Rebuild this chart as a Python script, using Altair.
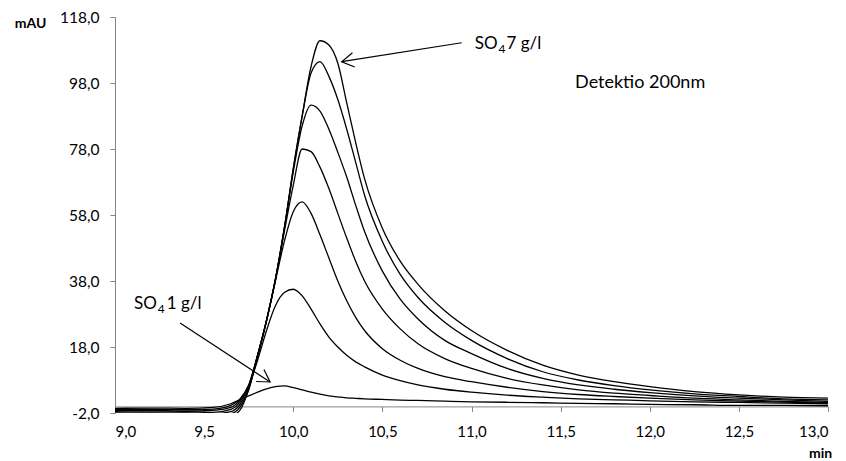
import altair as alt
import pandas as pd

# ---- data ----
TIME = [9.0, 9.2, 9.4, 9.55, 9.65, 9.7, 9.75, 9.8, 9.85, 9.9, 9.95, 10.0, 10.05, 10.1,
        10.15, 10.2, 10.25, 10.3, 10.35, 10.4, 10.5, 10.6, 10.7, 10.85, 11.0, 11.2,
        11.4, 11.6, 11.8, 12.0, 12.25, 12.5, 12.75, 13.0]

SO4_1 = [-0.6, -0.5, -0.6, -0.3, 0.8, 2.0, 3.2, 4.3, 5.3, 6.0, 6.2, 5.7, 5.0, 4.3,
         3.7, 3.2, 2.9, 2.6, 2.45, 2.3, 2.1, 1.9, 1.8, 1.6, 1.4, 1.25,
         1.1, 0.9, 0.8, 0.6, 0.5, 0.3, 0.3, 0.2]
SO4_2 = [-1.0, -0.9, -1.0, -0.8, 0.3, 2.2, 6.3, 14.0, 23.0, 30.5, 34.5, 35.5, 33.5, 29.5,
         25.0, 21.0, 18.0, 15.5, 13.5, 12.0, 9.5, 7.8, 6.5, 5.2, 4.3, 3.4,
         2.8, 2.3, 2.0, 1.7, 1.4, 1.2, 1.0, 0.8]
SO4_3 = [-1.3, -1.2, -1.4, -1.2, -0.3, 1.8, 6.5, 15.5, 26.0, 38.0, 50.0, 59.0, 62.0, 58.5,
         52.0, 45.0, 38.0, 32.0, 27.0, 23.0, 17.5, 14.0, 11.5, 9.0, 7.5, 5.8,
         4.5, 3.6, 3.0, 2.5, 2.0, 1.6, 1.3, 1.0]
SO4_4 = [-1.6, -1.7, -1.6, -1.8, -0.9, 1.2, 6.0, 15.5, 26.0, 38.5, 53.0, 67.0, 78.0, 77.2,
         72.5, 66.0, 58.5, 51.0, 44.0, 38.0, 29.5, 23.5, 19.0, 14.5, 11.5, 8.5,
         6.5, 5.0, 4.0, 3.3, 2.5, 2.0, 1.5, 1.2]
SO4_5 = [-2.0, -2.1, -2.0, -2.2, -1.6, 0.5, 5.5, 15.5, 26.0, 38.5, 54.0, 71.0, 85.0, 91.3,
         89.5, 84.0, 77.0, 69.5, 61.0, 53.0, 41.0, 32.5, 26.5, 20.0, 16.0, 11.5,
         8.5, 6.5, 5.2, 4.2, 3.2, 2.5, 2.0, 1.5]
SO4_6 = [-2.4, -2.5, -2.4, -2.6, -2.2, -0.3, 5.2, 15.3, 26.0, 38.5, 54.0, 72.0, 88.0, 101.0,
         104.5, 100.0, 93.0, 84.0, 74.0, 64.0, 50.0, 40.0, 33.0, 25.5, 20.0, 14.5,
         10.5, 8.0, 6.3, 5.0, 3.8, 3.0, 2.3, 2.0]
SO4_7 = [-2.8, -2.9, -2.8, -3.0, -2.8, -1.2, 5.0, 15.0, 26.0, 38.5, 54.0, 72.0, 88.0, 103.0,
         110.8, 109.5, 104.0, 92.0, 80.0, 69.0, 54.0, 44.0, 37.0, 29.0, 23.0, 17.0,
         12.5, 9.5, 7.5, 6.0, 4.5, 3.5, 2.8, 2.5]

SERIES_NAMES = ["1 g/l", "2 g/l", "3 g/l", "4 g/l", "5 g/l", "6 g/l", "7 g/l"]
SERIES_VALUES = [SO4_1, SO4_2, SO4_3, SO4_4, SO4_5, SO4_6, SO4_7]

X_TICKS = [9.0, 9.5, 10.0, 10.5, 11.0, 11.5, 12.0, 12.5, 13.0]
Y_TICKS = [-2.0, 18.0, 38.0, 58.0, 78.0, 98.0, 118.0]

# annotation texts (time, mAU)
ANN_TEXT = ["SO", "4", "7 g/l", "Detektio 200nm", "SO", "4", "1 g/l"]
ANN_X = [11.018, 11.152, 11.196, 11.581, 9.107, 9.240, 9.290]
ANN_Y = [108.2, 107.0, 108.2, 96.6, 29.5, 28.3, 29.5]
ANN_SIZE = [17, 12, 17, 18, 17, 12, 17]

# arrows: tail -> tip (time, mAU), angle of head in screen degrees
ARROW_X = [10.945, 9.365]
ARROW_Y = [110.2, 25.3]
ARROW_X2 = [10.272, 9.870]
ARROW_Y2 = [104.45, 7.4]
ARROW_ANGLE = [171, 33]

rows = []
for name, vals in zip(SERIES_NAMES, SERIES_VALUES):
    for t, v in zip(TIME, vals):
        rows.append({"series": name, "t": t, "v": v})
df = pd.DataFrame(rows)

ann = pd.DataFrame({"text": ANN_TEXT, "x": ANN_X, "y": ANN_Y, "fs": ANN_SIZE})
arr = pd.DataFrame({"x": ARROW_X, "y": ARROW_Y, "x2": ARROW_X2, "y2": ARROW_Y2,
                    "ang": ARROW_ANGLE})

FONT = "Lato"
GRAY = "#868686"
xs = alt.Scale(domain=[9, 13], nice=False, zero=False)
ys = alt.Scale(domain=[-2, 118], nice=False, zero=False)
fmt = "(datum.value < 0 ? '-' : '') + replace(format(abs(datum.value), '.1f'), '.', ',')"

x_axis = alt.Axis(values=X_TICKS, labelExpr=fmt, title="min", offset=-6.6,
                  domainColor=GRAY, tickColor=GRAY, tickSize=5, grid=False,
                  labelFont=FONT, labelFontSize=15, labelColor="black", labelPadding=13,
                  titleFont=FONT, titleFontSize=14, titleFontWeight="bold", titleColor="black",
                  titleX=705, titleY=47, titleAlign="center", titleBaseline="middle",
                  titleAngle=0)
y_axis = alt.Axis(values=Y_TICKS, labelExpr=fmt, title="mAU",
                  domainColor=GRAY, tickColor=GRAY, tickSize=5, grid=False,
                  labelFont=FONT, labelFontSize=15.5, labelColor="black", labelPadding=11,
                  titleFont=FONT, titleFontSize=14, titleFontWeight="bold", titleColor="black",
                  titleX=-85, titleY=6, titleAlign="center", titleBaseline="middle",
                  titleAngle=0)

lines = alt.Chart(df).mark_line(color="black", strokeWidth=1.3, clip=True,
                                interpolate="monotone").encode(
    x=alt.X("t:Q", scale=xs, axis=x_axis),
    y=alt.Y("v:Q", scale=ys, axis=y_axis),
    detail="series:N",
)

texts = alt.Chart(ann).mark_text(font=FONT, color="black", align="left",
                                 baseline="alphabetic").encode(
    x=alt.X("x:Q", scale=xs),
    y=alt.Y("y:Q", scale=ys),
    text="text:N",
    size=alt.Size("fs:Q", scale=None),
)

arrow_lines = alt.Chart(arr).mark_rule(color="black", strokeWidth=1.2).encode(
    x=alt.X("x:Q", scale=xs), y=alt.Y("y:Q", scale=ys),
    x2="x2:Q", y2="y2:Q",
)

arrow_heads = alt.Chart(arr).mark_point(
    shape="M -1 -0.6 L 0 0 L -1 0.6", filled=False, size=576,
    color="black", strokeWidth=1.2, opacity=1,
).encode(
    x=alt.X("x2:Q", scale=xs), y=alt.Y("y2:Q", scale=ys),
    angle=alt.Angle("ang:Q", scale=None),
)

chart = alt.layer(lines, texts, arrow_lines, arrow_heads).properties(
    width=713, height=396,
    autosize=alt.AutoSizeParams(type="none"),
    padding={"left": 115, "top": 17, "right": 18, "bottom": 48},
).configure_view(stroke=None)

chart.save("out.html", embed_options={"renderer": "svg", "actions": False})
